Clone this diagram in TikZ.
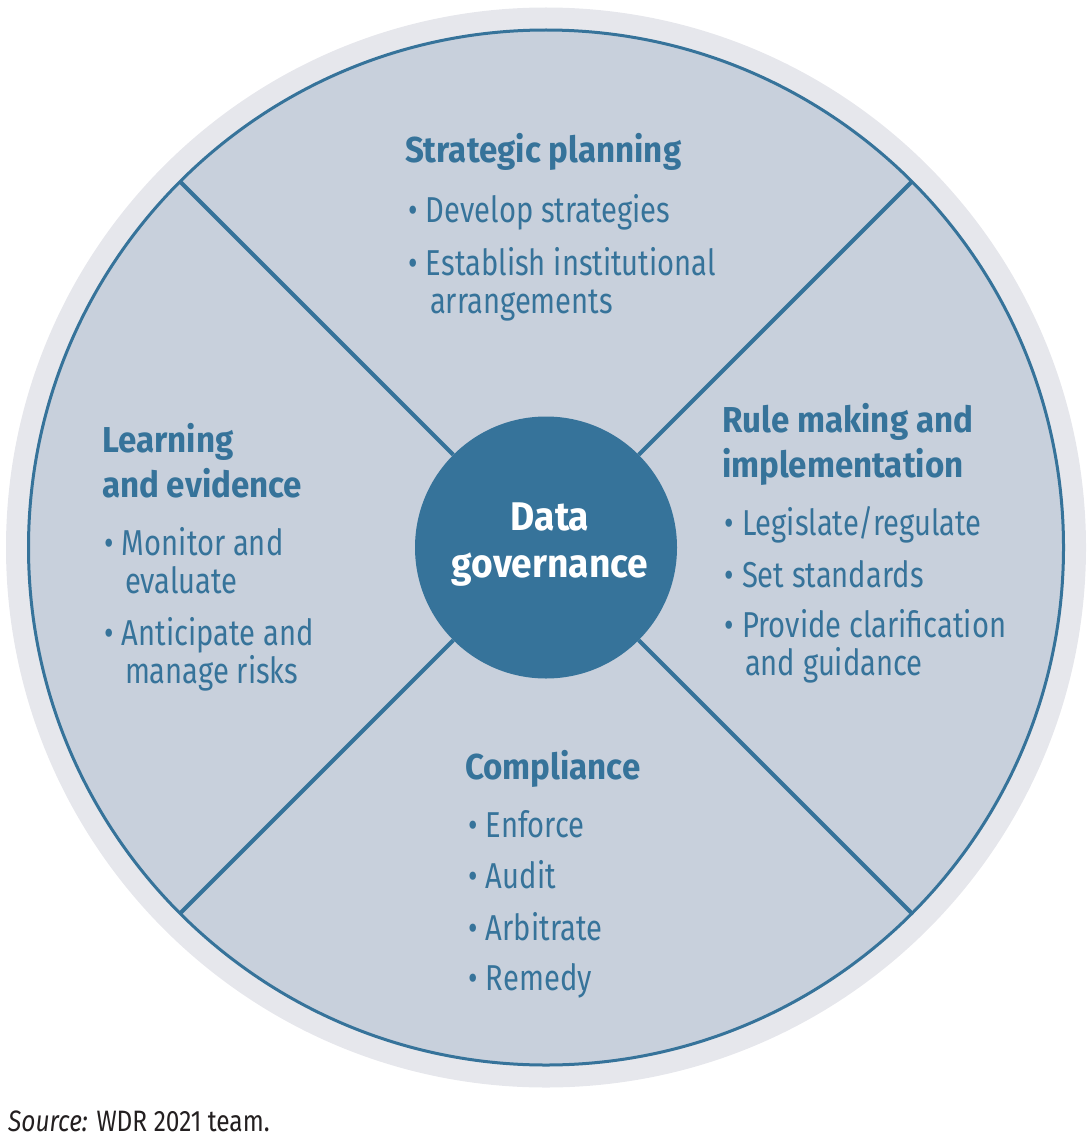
\documentclass[tikz,border=0pt]{standalone}
\usepackage{fontspec}
\newfontfamily\bodyf{Fira Sans}[FakeStretch=0.81]
\newfontfamily\headf{Fira Sans Bold}[FakeStretch=0.92]
\newfontfamily\ctrf{Fira Sans Bold}[FakeStretch=0.93]
\newfontfamily\srcf{Fira Sans}[FakeStretch=0.83]
\definecolor{dblue}{HTML}{36739A}
\definecolor{disk}{HTML}{C8D0DC}
\definecolor{ring}{HTML}{E6E7EC}
\definecolor{srcblack}{HTML}{231F20}
\begin{document}
\begin{tikzpicture}[x=1pt,y=-1pt,
  txt/.style={anchor=base west,inner sep=0pt,outer sep=0pt,text=dblue,font=\bodyf\fontsize{36}{36}\selectfont},
  head/.style={anchor=base west,inner sep=0pt,outer sep=0pt,text=dblue,font=\headf\fontsize{36}{36}\selectfont},
  ctr/.style={anchor=base,inner sep=0pt,outer sep=0pt,text=white,font=\ctrf\fontsize{40}{40}\selectfont},
  divider/.style={draw=dblue,line width=4pt}]
\useasboundingbox (0,0) rectangle (1091,1137);
\newcommand{\bl}{\makebox[18pt][l]{\textbullet}}
% rings
\node (outer) [circle,fill=ring,minimum size=1080pt,inner sep=0pt,outer sep=0pt] at (546,547.5) {};
\node (disk) [circle,fill=disk,draw=dblue,line width=3pt,minimum size=1035pt,inner sep=0pt,outer sep=0pt] at (546,547.5) {};
\node (c) [circle,fill=dblue,minimum size=262pt,inner sep=0pt,outer sep=0pt] at (546,547.5) {};
% dividers
\draw[divider] (c.45) -- (disk.45);
\draw[divider] (c.135) -- (disk.135);
\draw[divider] (c.225) -- (disk.225);
\draw[divider] (c.315) -- (disk.315);
% center text
\node (c1) [ctr] at (550,530) {Data};
\node (c2) [ctr] at (550,577) {governance};
% strategic planning
\node (s0) [head] at (405,162) {Strategic planning};
\node (s1) [txt] at (408,222) {\bl Develop strategies};
\node (s2) [txt] at (408,275) {\bl Establish institutional};
\node (s3) [txt] at (430,313) {arrangements};
% rule making
\node (r0) [head] at (722,432) {Rule making and};
\node (r0b) [head] at (722,477) {implementation};
\node (r1) [txt] at (724,535) {\bl Legislate/regulate};
\node (r2) [txt] at (724,587) {\bl Set standards};
\node (r3) [txt] at (724,637) {\bl Provide clarification};
\node (r4) [txt] at (745,675) {and guidance};
% learning
\node (l0) [head] at (102,452) {Learning};
\node (l0b) [head] at (102,497) {and evidence};
\node (l1) [txt] at (104,555) {\bl Monitor and};
\node (l2) [txt] at (125,593) {evaluate};
\node (l3) [txt] at (104,645) {\bl Anticipate and};
\node (l4) [txt] at (125,683) {manage risks};
% compliance
\node (k0) [head] at (465,779) {Compliance};
\node (k1) [txt] at (468,837) {\bl Enforce};
\node (k2) [txt] at (468,888) {\bl Audit};
\node (k3) [txt] at (468,940) {\bl Arbitrate};
\node (k4) [txt] at (468,990) {\bl Remedy};
% source
\node (src) [anchor=base west,inner sep=0pt,text=srcblack,font=\srcf\fontsize{29.5}{29.5}\selectfont] at (8,1131) {\textit{Source:} WDR 2021 team.};
\end{tikzpicture}
\end{document}
